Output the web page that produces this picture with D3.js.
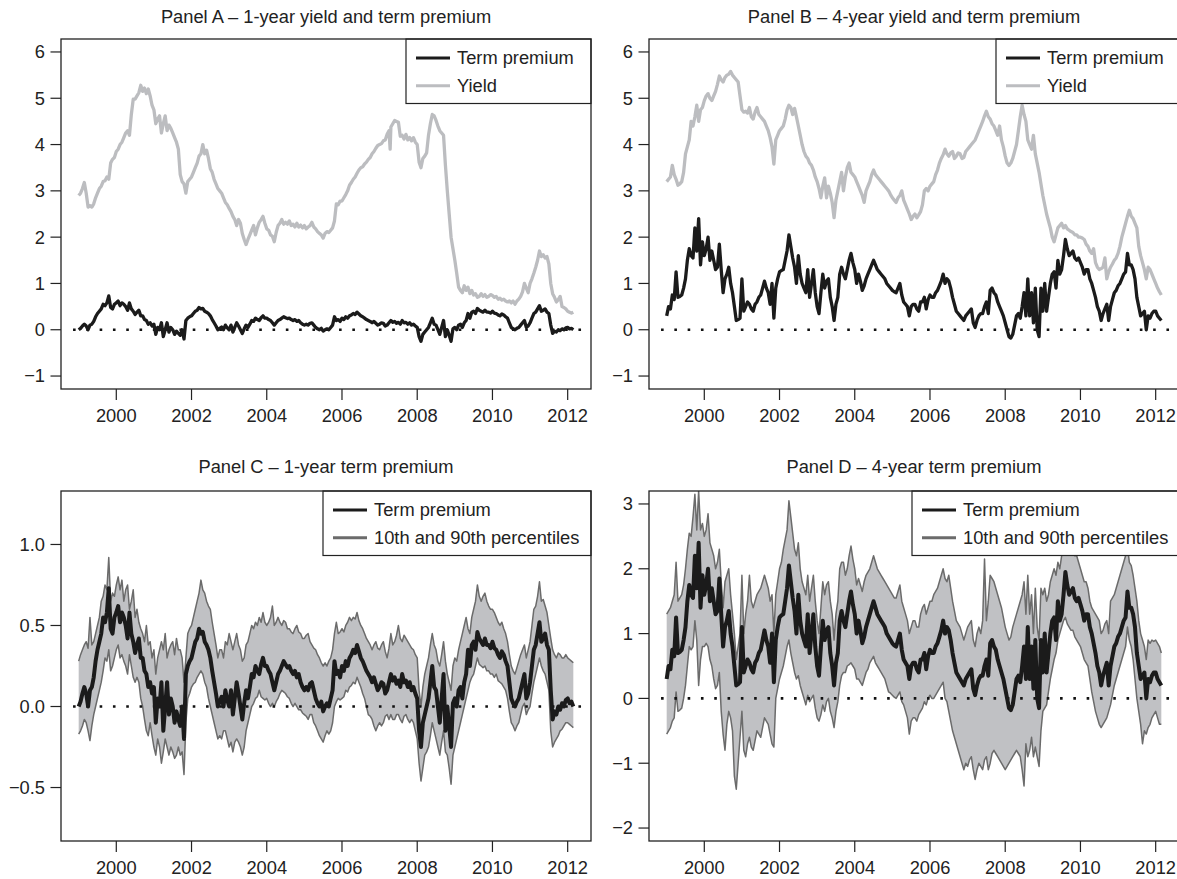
<!DOCTYPE html>
<html>
<head>
<meta charset="utf-8">
<script src="https://cdn.jsdelivr.net/npm/d3@7"></script>
<style>
  html, body { margin: 0; padding: 0; background: #fff; }
  svg { display: block; }
  text { font-family: "Liberation Sans", Arial, Helvetica, sans-serif; fill: #222; }
</style>
</head>
<body>
<svg id="chart" width="1177" height="879"></svg>
<script>
// ---- Data: [decimal year, percent] ----

// 1-year zero-coupon yield
const yield1 = [[1999.00,2.90],[1999.05,2.95],[1999.10,3.05],[1999.15,3.18],[1999.20,2.95],[1999.25,2.65],[1999.30,2.68],[1999.35,2.65],[1999.40,2.72],[1999.45,2.85],[1999.50,2.95],[1999.55,3.05],[1999.60,3.10],[1999.65,3.20],[1999.70,3.22],[1999.75,3.30],[1999.80,3.25],[1999.85,3.60],[1999.90,3.68],[1999.95,3.72],[2000.00,3.85],[2000.05,3.90],[2000.10,4.00],[2000.15,4.05],[2000.20,4.15],[2000.25,4.25],[2000.30,4.30],[2000.35,4.20],[2000.40,4.65],[2000.45,4.98],[2000.50,4.98],[2000.55,5.05],[2000.60,5.12],[2000.65,5.28],[2000.70,5.15],[2000.75,5.22],[2000.80,5.10],[2000.85,5.20],[2000.90,5.05],[2000.95,4.85],[2001.00,4.75],[2001.05,4.45],[2001.10,4.55],[2001.15,4.62],[2001.20,4.25],[2001.25,4.45],[2001.30,4.62],[2001.35,4.30],[2001.40,4.42],[2001.45,4.35],[2001.50,4.25],[2001.55,4.15],[2001.60,4.05],[2001.65,3.90],[2001.70,3.35],[2001.75,3.20],[2001.80,3.15],[2001.85,2.95],[2001.90,3.20],[2001.95,3.25],[2002.00,3.30],[2002.05,3.40],[2002.10,3.50],[2002.15,3.60],[2002.20,3.75],[2002.25,3.80],[2002.30,4.00],[2002.35,3.80],[2002.40,3.88],[2002.45,3.70],[2002.50,3.48],[2002.55,3.40],[2002.60,3.25],[2002.65,3.15],[2002.70,3.05],[2002.75,3.00],[2002.80,2.95],[2002.85,2.85],[2002.90,2.75],[2002.95,2.70],[2003.00,2.62],[2003.05,2.55],[2003.10,2.45],[2003.15,2.38],[2003.20,2.25],[2003.25,2.38],[2003.30,2.30],[2003.35,2.08],[2003.40,1.95],[2003.45,1.84],[2003.50,1.95],[2003.55,2.05],[2003.60,2.15],[2003.65,2.25],[2003.70,2.05],[2003.75,2.20],[2003.80,2.32],[2003.85,2.38],[2003.90,2.45],[2003.95,2.30],[2004.00,2.18],[2004.05,2.15],[2004.10,2.05],[2004.15,2.02],[2004.20,1.90],[2004.25,2.10],[2004.30,2.25],[2004.35,2.30],[2004.40,2.38],[2004.45,2.28],[2004.50,2.32],[2004.55,2.28],[2004.60,2.35],[2004.65,2.25],[2004.70,2.28],[2004.75,2.22],[2004.80,2.30],[2004.85,2.22],[2004.90,2.26],[2004.95,2.20],[2005.00,2.25],[2005.05,2.18],[2005.10,2.22],[2005.15,2.25],[2005.20,2.32],[2005.25,2.22],[2005.30,2.18],[2005.35,2.12],[2005.40,2.08],[2005.45,2.05],[2005.50,1.98],[2005.55,2.08],[2005.60,2.12],[2005.65,2.10],[2005.70,2.15],[2005.75,2.20],[2005.80,2.35],[2005.85,2.72],[2005.90,2.70],[2005.95,2.78],[2006.00,2.78],[2006.05,2.85],[2006.10,2.92],[2006.15,3.00],[2006.20,3.12],[2006.25,3.18],[2006.30,3.25],[2006.35,3.30],[2006.40,3.38],[2006.45,3.45],[2006.50,3.50],[2006.55,3.52],[2006.60,3.58],[2006.65,3.62],[2006.70,3.68],[2006.75,3.72],[2006.80,3.80],[2006.85,3.85],[2006.90,3.92],[2006.95,3.98],[2007.00,4.00],[2007.05,4.02],[2007.10,4.08],[2007.15,4.10],[2007.20,4.22],[2007.25,4.30],[2007.28,3.90],[2007.30,4.38],[2007.35,4.45],[2007.40,4.52],[2007.45,4.50],[2007.50,4.48],[2007.55,4.18],[2007.60,4.20],[2007.65,4.12],[2007.70,4.22],[2007.75,4.10],[2007.80,4.15],[2007.85,4.08],[2007.90,4.15],[2007.95,4.05],[2008.00,4.00],[2008.05,3.62],[2008.10,3.50],[2008.15,3.70],[2008.20,3.75],[2008.25,3.82],[2008.30,4.20],[2008.35,4.45],[2008.40,4.65],[2008.45,4.62],[2008.50,4.52],[2008.55,4.40],[2008.60,4.30],[2008.65,4.25],[2008.70,4.20],[2008.75,3.55],[2008.80,3.00],[2008.85,2.50],[2008.90,2.00],[2008.95,1.75],[2009.00,1.50],[2009.05,1.22],[2009.10,0.92],[2009.15,0.85],[2009.20,0.80],[2009.25,0.95],[2009.30,0.85],[2009.35,0.92],[2009.40,0.78],[2009.45,0.85],[2009.50,0.75],[2009.55,0.78],[2009.60,0.70],[2009.65,0.72],[2009.70,0.78],[2009.75,0.72],[2009.80,0.76],[2009.85,0.70],[2009.90,0.72],[2009.95,0.76],[2010.00,0.74],[2010.05,0.70],[2010.10,0.72],[2010.15,0.66],[2010.20,0.68],[2010.25,0.64],[2010.30,0.66],[2010.35,0.62],[2010.40,0.60],[2010.45,0.62],[2010.50,0.58],[2010.55,0.62],[2010.60,0.55],[2010.65,0.62],[2010.70,0.66],[2010.75,0.72],[2010.80,0.82],[2010.85,1.00],[2010.90,0.90],[2010.95,0.80],[2011.00,1.00],[2011.05,1.10],[2011.10,1.22],[2011.15,1.35],[2011.20,1.50],[2011.25,1.70],[2011.30,1.58],[2011.35,1.62],[2011.40,1.55],[2011.45,1.58],[2011.50,1.42],[2011.55,1.00],[2011.60,0.78],[2011.65,0.70],[2011.70,0.60],[2011.75,0.65],[2011.80,0.72],[2011.85,0.50],[2011.90,0.48],[2011.95,0.45],[2012.00,0.40],[2012.05,0.38],[2012.10,0.36],[2012.15,0.38]];

// 1-year term premium
const premium1 = [[1999.00,0.00],[1999.05,0.03],[1999.10,0.08],[1999.15,0.12],[1999.20,0.08],[1999.25,0.00],[1999.30,0.10],[1999.35,0.12],[1999.40,0.18],[1999.45,0.28],[1999.50,0.35],[1999.55,0.40],[1999.60,0.45],[1999.65,0.55],[1999.70,0.52],[1999.75,0.58],[1999.80,0.73],[1999.85,0.48],[1999.90,0.45],[1999.95,0.55],[2000.00,0.58],[2000.05,0.62],[2000.10,0.52],[2000.15,0.58],[2000.20,0.55],[2000.25,0.50],[2000.30,0.42],[2000.35,0.58],[2000.40,0.45],[2000.45,0.40],[2000.50,0.33],[2000.55,0.38],[2000.60,0.42],[2000.65,0.30],[2000.70,0.30],[2000.75,0.22],[2000.80,0.20],[2000.85,0.12],[2000.90,0.15],[2000.95,0.08],[2001.00,0.12],[2001.05,-0.10],[2001.10,0.05],[2001.15,0.00],[2001.20,0.15],[2001.25,-0.15],[2001.30,0.00],[2001.35,0.15],[2001.40,-0.05],[2001.45,0.05],[2001.50,0.00],[2001.55,-0.10],[2001.60,-0.03],[2001.65,-0.08],[2001.70,-0.12],[2001.75,0.00],[2001.80,-0.20],[2001.85,0.20],[2001.90,0.25],[2001.95,0.28],[2002.00,0.30],[2002.05,0.35],[2002.10,0.40],[2002.15,0.42],[2002.20,0.48],[2002.25,0.45],[2002.30,0.46],[2002.35,0.40],[2002.40,0.38],[2002.45,0.35],[2002.50,0.30],[2002.55,0.22],[2002.60,0.15],[2002.65,0.08],[2002.70,0.00],[2002.75,0.03],[2002.80,0.06],[2002.85,0.00],[2002.90,0.10],[2002.95,0.04],[2003.00,0.00],[2003.05,0.10],[2003.10,-0.05],[2003.15,0.05],[2003.20,0.15],[2003.25,0.08],[2003.30,0.00],[2003.35,-0.08],[2003.40,0.02],[2003.45,0.10],[2003.50,0.05],[2003.55,0.12],[2003.60,0.20],[2003.65,0.18],[2003.70,0.25],[2003.75,0.22],[2003.80,0.20],[2003.85,0.26],[2003.90,0.30],[2003.95,0.25],[2004.00,0.25],[2004.05,0.22],[2004.10,0.20],[2004.15,0.15],[2004.20,0.10],[2004.25,0.15],[2004.30,0.20],[2004.35,0.22],[2004.40,0.25],[2004.45,0.28],[2004.50,0.26],[2004.55,0.24],[2004.60,0.25],[2004.65,0.22],[2004.70,0.20],[2004.75,0.22],[2004.80,0.18],[2004.85,0.20],[2004.90,0.15],[2004.95,0.12],[2005.00,0.10],[2005.05,0.12],[2005.10,0.10],[2005.15,0.14],[2005.20,0.15],[2005.25,0.10],[2005.30,0.05],[2005.35,0.02],[2005.40,0.00],[2005.45,0.03],[2005.50,-0.03],[2005.55,0.00],[2005.60,0.02],[2005.65,0.00],[2005.70,0.05],[2005.75,0.10],[2005.80,0.28],[2005.85,0.20],[2005.90,0.22],[2005.95,0.18],[2006.00,0.25],[2006.05,0.22],[2006.10,0.28],[2006.15,0.25],[2006.20,0.30],[2006.25,0.32],[2006.30,0.35],[2006.35,0.33],[2006.40,0.38],[2006.45,0.34],[2006.50,0.30],[2006.55,0.28],[2006.60,0.25],[2006.65,0.22],[2006.70,0.20],[2006.75,0.18],[2006.80,0.15],[2006.85,0.18],[2006.90,0.14],[2006.95,0.10],[2007.00,0.12],[2007.05,0.15],[2007.10,0.14],[2007.15,0.08],[2007.20,0.10],[2007.25,0.15],[2007.30,0.20],[2007.35,0.16],[2007.40,0.18],[2007.45,0.14],[2007.50,0.16],[2007.55,0.12],[2007.60,0.20],[2007.65,0.15],[2007.70,0.16],[2007.75,0.12],[2007.80,0.15],[2007.85,0.10],[2007.90,0.12],[2007.95,0.08],[2008.00,0.05],[2008.05,-0.15],[2008.10,-0.25],[2008.15,-0.10],[2008.20,-0.05],[2008.25,0.00],[2008.30,0.05],[2008.35,0.15],[2008.40,0.25],[2008.45,0.12],[2008.50,0.10],[2008.55,0.00],[2008.60,-0.10],[2008.65,0.05],[2008.70,0.20],[2008.75,-0.15],[2008.80,0.00],[2008.85,-0.12],[2008.90,-0.25],[2008.95,0.02],[2009.00,0.05],[2009.05,0.00],[2009.10,0.10],[2009.15,0.12],[2009.20,0.05],[2009.25,0.15],[2009.30,0.20],[2009.35,0.35],[2009.40,0.25],[2009.45,0.38],[2009.50,0.40],[2009.55,0.35],[2009.60,0.46],[2009.65,0.42],[2009.70,0.40],[2009.75,0.38],[2009.80,0.42],[2009.85,0.38],[2009.90,0.38],[2009.95,0.36],[2010.00,0.40],[2010.05,0.36],[2010.10,0.35],[2010.15,0.32],[2010.20,0.30],[2010.25,0.34],[2010.30,0.32],[2010.35,0.28],[2010.40,0.25],[2010.45,0.15],[2010.50,0.05],[2010.55,0.02],[2010.60,0.00],[2010.65,0.03],[2010.70,0.05],[2010.75,0.10],[2010.80,0.15],[2010.85,0.20],[2010.90,0.05],[2010.95,0.08],[2011.00,0.15],[2011.05,0.25],[2011.10,0.35],[2011.15,0.38],[2011.20,0.45],[2011.25,0.52],[2011.30,0.40],[2011.35,0.42],[2011.40,0.45],[2011.45,0.38],[2011.50,0.35],[2011.55,0.10],[2011.60,-0.08],[2011.65,-0.03],[2011.70,-0.05],[2011.75,0.00],[2011.80,-0.02],[2011.85,0.02],[2011.90,0.00],[2011.95,0.04],[2012.00,0.05],[2012.05,0.02],[2012.10,0.03],[2012.15,0.00]];

// 1-year term premium, 90th percentile
const premium1Upper = [[1999.00,0.28],[1999.05,0.32],[1999.10,0.35],[1999.15,0.38],[1999.20,0.40],[1999.25,0.36],[1999.30,0.55],[1999.35,0.38],[1999.40,0.40],[1999.45,0.45],[1999.50,0.50],[1999.55,0.55],[1999.60,0.65],[1999.65,0.68],[1999.70,0.75],[1999.75,0.72],[1999.80,0.92],[1999.85,0.65],[1999.90,0.70],[1999.95,0.68],[2000.00,0.75],[2000.05,0.80],[2000.10,0.72],[2000.15,0.78],[2000.20,0.65],[2000.25,0.72],[2000.30,0.75],[2000.35,0.60],[2000.40,0.65],[2000.45,0.72],[2000.50,0.55],[2000.55,0.60],[2000.60,0.52],[2000.65,0.48],[2000.70,0.45],[2000.75,0.40],[2000.80,0.50],[2000.85,0.38],[2000.90,0.40],[2000.95,0.30],[2001.00,0.35],[2001.05,0.20],[2001.10,0.30],[2001.15,0.35],[2001.20,0.40],[2001.25,0.35],[2001.30,0.45],[2001.35,0.30],[2001.40,0.35],[2001.45,0.38],[2001.50,0.40],[2001.55,0.32],[2001.60,0.42],[2001.65,0.35],[2001.70,0.35],[2001.75,0.30],[2001.80,0.15],[2001.85,0.30],[2001.90,0.45],[2001.95,0.48],[2002.00,0.50],[2002.05,0.55],[2002.10,0.60],[2002.15,0.65],[2002.20,0.70],[2002.25,0.78],[2002.30,0.72],[2002.35,0.70],[2002.40,0.65],[2002.45,0.62],[2002.50,0.60],[2002.55,0.52],[2002.60,0.45],[2002.65,0.38],[2002.70,0.30],[2002.75,0.35],[2002.80,0.35],[2002.85,0.30],[2002.90,0.40],[2002.95,0.38],[2003.00,0.45],[2003.05,0.40],[2003.10,0.35],[2003.15,0.40],[2003.20,0.45],[2003.25,0.38],[2003.30,0.35],[2003.35,0.28],[2003.40,0.30],[2003.45,0.38],[2003.50,0.40],[2003.55,0.45],[2003.60,0.50],[2003.65,0.48],[2003.70,0.52],[2003.75,0.50],[2003.80,0.55],[2003.85,0.52],[2003.90,0.58],[2003.95,0.52],[2004.00,0.50],[2004.05,0.52],[2004.10,0.55],[2004.15,0.62],[2004.20,0.50],[2004.25,0.52],[2004.30,0.55],[2004.35,0.52],[2004.40,0.50],[2004.45,0.53],[2004.50,0.52],[2004.55,0.48],[2004.60,0.48],[2004.65,0.46],[2004.70,0.45],[2004.75,0.48],[2004.80,0.50],[2004.85,0.46],[2004.90,0.45],[2004.95,0.42],[2005.00,0.42],[2005.05,0.44],[2005.10,0.45],[2005.15,0.40],[2005.20,0.38],[2005.25,0.36],[2005.30,0.35],[2005.35,0.32],[2005.40,0.30],[2005.45,0.27],[2005.50,0.25],[2005.55,0.27],[2005.60,0.25],[2005.65,0.28],[2005.70,0.30],[2005.75,0.35],[2005.80,0.45],[2005.85,0.52],[2005.90,0.45],[2005.95,0.46],[2006.00,0.48],[2006.05,0.46],[2006.10,0.50],[2006.15,0.52],[2006.20,0.55],[2006.25,0.53],[2006.30,0.55],[2006.35,0.54],[2006.40,0.58],[2006.45,0.53],[2006.50,0.50],[2006.55,0.48],[2006.60,0.45],[2006.65,0.42],[2006.70,0.40],[2006.75,0.38],[2006.80,0.35],[2006.85,0.38],[2006.90,0.40],[2006.95,0.36],[2007.00,0.35],[2007.05,0.38],[2007.10,0.40],[2007.15,0.34],[2007.20,0.30],[2007.25,0.36],[2007.30,0.45],[2007.35,0.38],[2007.40,0.40],[2007.45,0.44],[2007.50,0.50],[2007.55,0.42],[2007.60,0.40],[2007.65,0.44],[2007.70,0.42],[2007.75,0.40],[2007.80,0.38],[2007.85,0.36],[2007.90,0.35],[2007.95,0.32],[2008.00,0.30],[2008.05,0.10],[2008.10,0.00],[2008.15,0.12],[2008.20,0.20],[2008.25,0.25],[2008.30,0.30],[2008.35,0.38],[2008.40,0.45],[2008.45,0.38],[2008.50,0.35],[2008.55,0.28],[2008.60,0.25],[2008.65,0.32],[2008.70,0.40],[2008.75,0.28],[2008.80,0.20],[2008.85,0.15],[2008.90,0.10],[2008.95,0.25],[2009.00,0.30],[2009.05,0.28],[2009.10,0.35],[2009.15,0.40],[2009.20,0.45],[2009.25,0.50],[2009.30,0.55],[2009.35,0.48],[2009.40,0.45],[2009.45,0.55],[2009.50,0.60],[2009.55,0.65],[2009.60,0.75],[2009.65,0.68],[2009.70,0.65],[2009.75,0.68],[2009.80,0.70],[2009.85,0.65],[2009.90,0.62],[2009.95,0.60],[2010.00,0.60],[2010.05,0.58],[2010.10,0.55],[2010.15,0.52],[2010.20,0.50],[2010.25,0.52],[2010.30,0.48],[2010.35,0.45],[2010.40,0.40],[2010.45,0.32],[2010.50,0.25],[2010.55,0.22],[2010.60,0.20],[2010.65,0.24],[2010.70,0.28],[2010.75,0.32],[2010.80,0.35],[2010.85,0.38],[2010.90,0.30],[2010.95,0.35],[2011.00,0.40],[2011.05,0.50],[2011.10,0.60],[2011.15,0.62],[2011.20,0.68],[2011.25,0.77],[2011.30,0.65],[2011.35,0.66],[2011.40,0.62],[2011.45,0.58],[2011.50,0.50],[2011.55,0.42],[2011.60,0.35],[2011.65,0.32],[2011.70,0.30],[2011.75,0.33],[2011.80,0.32],[2011.85,0.30],[2011.90,0.30],[2011.95,0.32],[2012.00,0.30],[2012.05,0.29],[2012.10,0.28],[2012.15,0.27]];

// 1-year term premium, 10th percentile
const premium1Lower = [[1999.00,-0.17],[1999.05,-0.15],[1999.10,-0.12],[1999.15,-0.08],[1999.20,-0.10],[1999.25,-0.15],[1999.30,-0.21],[1999.35,-0.12],[1999.40,-0.05],[1999.45,0.00],[1999.50,0.05],[1999.55,0.10],[1999.60,0.15],[1999.65,0.22],[1999.70,0.30],[1999.75,0.28],[1999.80,0.35],[1999.85,0.22],[1999.90,0.25],[1999.95,0.30],[2000.00,0.35],[2000.05,0.38],[2000.10,0.30],[2000.15,0.32],[2000.20,0.28],[2000.25,0.25],[2000.30,0.20],[2000.35,0.32],[2000.40,0.25],[2000.45,0.18],[2000.50,0.15],[2000.55,0.18],[2000.60,0.15],[2000.65,0.05],[2000.70,0.00],[2000.75,-0.08],[2000.80,-0.15],[2000.85,-0.18],[2000.90,-0.10],[2000.95,-0.18],[2001.00,-0.25],[2001.05,-0.30],[2001.10,-0.20],[2001.15,-0.25],[2001.20,-0.35],[2001.25,-0.28],[2001.30,-0.20],[2001.35,-0.25],[2001.40,-0.30],[2001.45,-0.25],[2001.50,-0.28],[2001.55,-0.32],[2001.60,-0.30],[2001.65,-0.25],[2001.70,-0.30],[2001.75,-0.28],[2001.80,-0.42],[2001.85,-0.10],[2001.90,0.05],[2001.95,0.08],[2002.00,0.12],[2002.05,0.14],[2002.10,0.15],[2002.15,0.18],[2002.20,0.20],[2002.25,0.22],[2002.30,0.20],[2002.35,0.15],[2002.40,0.12],[2002.45,0.05],[2002.50,0.00],[2002.55,-0.05],[2002.60,-0.10],[2002.65,-0.15],[2002.70,-0.20],[2002.75,-0.18],[2002.80,-0.20],[2002.85,-0.15],[2002.90,-0.15],[2002.95,-0.20],[2003.00,-0.25],[2003.05,-0.22],[2003.10,-0.28],[2003.15,-0.22],[2003.20,-0.20],[2003.25,-0.22],[2003.30,-0.25],[2003.35,-0.30],[2003.40,-0.25],[2003.45,-0.15],[2003.50,-0.10],[2003.55,-0.05],[2003.60,0.00],[2003.65,0.02],[2003.70,0.05],[2003.75,0.06],[2003.80,0.10],[2003.85,0.06],[2003.90,0.05],[2003.95,0.04],[2004.00,0.05],[2004.05,0.02],[2004.10,0.00],[2004.15,0.02],[2004.20,0.00],[2004.25,0.03],[2004.30,0.05],[2004.35,0.08],[2004.40,0.10],[2004.45,0.09],[2004.50,0.08],[2004.55,0.06],[2004.60,0.05],[2004.65,0.02],[2004.70,0.00],[2004.75,0.02],[2004.80,0.00],[2004.85,-0.02],[2004.90,-0.02],[2004.95,-0.04],[2005.00,-0.05],[2005.05,-0.06],[2005.10,-0.08],[2005.15,-0.05],[2005.20,-0.05],[2005.25,-0.10],[2005.30,-0.12],[2005.35,-0.15],[2005.40,-0.18],[2005.45,-0.20],[2005.50,-0.22],[2005.55,-0.18],[2005.60,-0.15],[2005.65,-0.17],[2005.70,-0.15],[2005.75,-0.10],[2005.80,0.00],[2005.85,0.03],[2005.90,0.05],[2005.95,0.04],[2006.00,0.05],[2006.05,0.06],[2006.10,0.10],[2006.15,0.09],[2006.20,0.12],[2006.25,0.13],[2006.30,0.15],[2006.35,0.14],[2006.40,0.18],[2006.45,0.15],[2006.50,0.12],[2006.55,0.08],[2006.60,0.05],[2006.65,0.00],[2006.70,-0.05],[2006.75,-0.06],[2006.80,-0.08],[2006.85,-0.12],[2006.90,-0.15],[2006.95,-0.12],[2007.00,-0.10],[2007.05,-0.12],[2007.10,-0.10],[2007.15,-0.06],[2007.20,-0.05],[2007.25,-0.08],[2007.30,-0.05],[2007.35,-0.08],[2007.40,-0.08],[2007.45,-0.05],[2007.50,-0.05],[2007.55,-0.08],[2007.60,-0.10],[2007.65,-0.06],[2007.70,-0.05],[2007.75,-0.08],[2007.80,-0.10],[2007.85,-0.08],[2007.90,-0.10],[2007.95,-0.15],[2008.00,-0.20],[2008.05,-0.35],[2008.10,-0.46],[2008.15,-0.38],[2008.20,-0.30],[2008.25,-0.28],[2008.30,-0.25],[2008.35,-0.18],[2008.40,-0.10],[2008.45,-0.15],[2008.50,-0.20],[2008.55,-0.25],[2008.60,-0.30],[2008.65,-0.22],[2008.70,-0.15],[2008.75,-0.28],[2008.80,-0.30],[2008.85,-0.38],[2008.90,-0.48],[2008.95,-0.30],[2009.00,-0.25],[2009.05,-0.20],[2009.10,-0.15],[2009.15,-0.10],[2009.20,-0.05],[2009.25,0.00],[2009.30,0.05],[2009.35,0.10],[2009.40,0.15],[2009.45,0.18],[2009.50,0.20],[2009.55,0.25],[2009.60,0.30],[2009.65,0.26],[2009.70,0.25],[2009.75,0.24],[2009.80,0.25],[2009.85,0.22],[2009.90,0.22],[2009.95,0.20],[2010.00,0.20],[2010.05,0.18],[2010.10,0.20],[2010.15,0.16],[2010.20,0.15],[2010.25,0.14],[2010.30,0.12],[2010.35,0.10],[2010.40,0.05],[2010.45,-0.03],[2010.50,-0.10],[2010.55,-0.12],[2010.60,-0.15],[2010.65,-0.12],[2010.70,-0.10],[2010.75,-0.05],[2010.80,0.00],[2010.85,0.02],[2010.90,-0.05],[2010.95,-0.02],[2011.00,0.00],[2011.05,0.08],[2011.10,0.15],[2011.15,0.20],[2011.20,0.25],[2011.25,0.30],[2011.30,0.25],[2011.35,0.22],[2011.40,0.20],[2011.45,0.15],[2011.50,0.10],[2011.55,-0.15],[2011.60,-0.25],[2011.65,-0.22],[2011.70,-0.20],[2011.75,-0.18],[2011.80,-0.15],[2011.85,-0.14],[2011.90,-0.12],[2011.95,-0.10],[2012.00,-0.10],[2012.05,-0.11],[2012.10,-0.12],[2012.15,-0.13]];

// 4-year zero-coupon yield
const yield4 = [[1999.00,3.20],[1999.05,3.25],[1999.10,3.30],[1999.15,3.55],[1999.20,3.35],[1999.25,3.25],[1999.30,3.12],[1999.35,3.15],[1999.40,3.20],[1999.45,3.40],[1999.50,3.80],[1999.55,3.95],[1999.60,4.10],[1999.65,4.50],[1999.70,4.40],[1999.75,4.60],[1999.80,4.85],[1999.85,4.50],[1999.90,4.75],[1999.95,4.80],[2000.00,4.95],[2000.05,5.05],[2000.10,5.10],[2000.15,5.00],[2000.20,4.95],[2000.25,5.05],[2000.30,5.15],[2000.35,5.30],[2000.40,5.48],[2000.45,5.40],[2000.50,5.35],[2000.55,5.45],[2000.60,5.50],[2000.65,5.52],[2000.70,5.58],[2000.75,5.50],[2000.80,5.45],[2000.85,5.40],[2000.90,5.35],[2000.95,5.05],[2001.00,4.75],[2001.05,4.70],[2001.10,4.72],[2001.15,4.68],[2001.20,4.80],[2001.25,4.60],[2001.30,4.55],[2001.35,4.70],[2001.40,4.80],[2001.45,4.65],[2001.50,4.60],[2001.55,4.55],[2001.60,4.50],[2001.65,4.40],[2001.70,4.30],[2001.75,4.15],[2001.80,3.95],[2001.85,3.58],[2001.90,4.10],[2001.95,4.20],[2002.00,4.30],[2002.05,4.35],[2002.10,4.40],[2002.15,4.55],[2002.20,4.75],[2002.25,4.85],[2002.30,4.80],[2002.35,4.65],[2002.40,4.78],[2002.45,4.60],[2002.50,4.40],[2002.55,4.20],[2002.60,4.00],[2002.65,3.85],[2002.70,3.75],[2002.75,3.70],[2002.80,3.60],[2002.85,3.55],[2002.90,3.45],[2002.95,3.30],[2003.00,3.20],[2003.05,3.05],[2003.10,2.85],[2003.15,3.10],[2003.20,3.28],[2003.25,2.85],[2003.30,3.10],[2003.35,2.95],[2003.40,2.75],[2003.45,2.42],[2003.50,2.80],[2003.55,3.00],[2003.60,3.20],[2003.65,3.40],[2003.70,3.00],[2003.75,3.30],[2003.80,3.50],[2003.85,3.60],[2003.90,3.40],[2003.95,3.35],[2004.00,3.30],[2004.05,3.20],[2004.10,3.10],[2004.15,3.00],[2004.20,2.90],[2004.25,2.75],[2004.30,3.00],[2004.35,3.10],[2004.40,3.20],[2004.45,3.35],[2004.50,3.45],[2004.55,3.35],[2004.60,3.30],[2004.65,3.25],[2004.70,3.20],[2004.75,3.15],[2004.80,3.10],[2004.85,3.05],[2004.90,3.00],[2004.95,2.92],[2005.00,2.85],[2005.05,2.80],[2005.10,2.75],[2005.15,2.85],[2005.20,2.90],[2005.25,3.00],[2005.30,2.80],[2005.35,2.70],[2005.40,2.60],[2005.45,2.50],[2005.50,2.38],[2005.55,2.45],[2005.60,2.50],[2005.65,2.42],[2005.70,2.48],[2005.75,2.55],[2005.80,2.70],[2005.85,3.00],[2005.90,3.05],[2005.95,3.00],[2006.00,3.10],[2006.05,3.15],[2006.10,3.20],[2006.15,3.35],[2006.20,3.45],[2006.25,3.60],[2006.30,3.70],[2006.35,3.78],[2006.40,3.90],[2006.45,3.80],[2006.50,3.75],[2006.55,3.82],[2006.60,3.85],[2006.65,3.70],[2006.70,3.75],[2006.75,3.82],[2006.80,3.80],[2006.85,3.70],[2006.90,3.72],[2006.95,3.85],[2007.00,3.90],[2007.05,3.95],[2007.10,4.00],[2007.15,4.05],[2007.20,4.10],[2007.25,4.20],[2007.30,4.30],[2007.35,4.40],[2007.40,4.50],[2007.45,4.62],[2007.50,4.72],[2007.55,4.60],[2007.60,4.55],[2007.65,4.45],[2007.70,4.40],[2007.75,4.30],[2007.80,4.20],[2007.85,4.40],[2007.90,4.10],[2007.95,3.95],[2008.00,3.75],[2008.05,3.60],[2008.10,3.55],[2008.15,3.60],[2008.20,3.70],[2008.25,3.85],[2008.30,4.00],[2008.35,4.30],[2008.40,4.60],[2008.45,4.85],[2008.50,4.65],[2008.55,4.50],[2008.60,4.10],[2008.65,4.00],[2008.70,3.90],[2008.75,4.20],[2008.80,3.80],[2008.85,3.60],[2008.90,3.40],[2008.95,3.15],[2009.00,2.90],[2009.05,2.70],[2009.10,2.50],[2009.15,2.35],[2009.20,2.20],[2009.25,2.00],[2009.30,1.90],[2009.35,2.05],[2009.40,2.20],[2009.45,2.25],[2009.50,2.30],[2009.55,2.20],[2009.60,2.25],[2009.65,2.18],[2009.70,2.15],[2009.75,2.12],[2009.80,2.10],[2009.85,2.05],[2009.90,2.05],[2009.95,2.00],[2010.00,2.00],[2010.05,1.98],[2010.10,1.95],[2010.15,1.85],[2010.20,1.80],[2010.25,1.70],[2010.30,1.65],[2010.35,1.75],[2010.40,1.45],[2010.45,1.35],[2010.50,1.30],[2010.55,1.32],[2010.60,1.35],[2010.65,1.55],[2010.70,1.10],[2010.75,1.25],[2010.80,1.35],[2010.85,1.42],[2010.90,1.50],[2010.95,1.55],[2011.00,1.65],[2011.05,1.80],[2011.10,2.00],[2011.15,2.15],[2011.20,2.30],[2011.25,2.45],[2011.30,2.58],[2011.35,2.45],[2011.40,2.40],[2011.45,2.30],[2011.50,2.20],[2011.55,1.80],[2011.60,1.60],[2011.65,1.45],[2011.70,1.30],[2011.75,1.10],[2011.80,1.35],[2011.85,1.30],[2011.90,1.20],[2011.95,1.10],[2012.00,1.00],[2012.05,0.90],[2012.10,0.82],[2012.15,0.75]];

// 4-year term premium
const premium4 = [[1999.00,0.30],[1999.05,0.50],[1999.10,0.45],[1999.15,0.75],[1999.20,0.65],[1999.25,1.25],[1999.30,0.70],[1999.35,0.72],[1999.40,0.75],[1999.45,0.90],[1999.50,1.10],[1999.55,1.50],[1999.60,1.75],[1999.65,1.60],[1999.70,1.55],[1999.75,2.20],[1999.80,1.70],[1999.85,2.40],[1999.90,1.40],[1999.95,1.90],[2000.00,1.60],[2000.05,1.75],[2000.10,2.00],[2000.15,1.50],[2000.20,1.70],[2000.25,1.50],[2000.30,1.30],[2000.35,1.35],[2000.40,1.85],[2000.45,1.30],[2000.50,0.80],[2000.55,1.10],[2000.60,1.20],[2000.65,1.35],[2000.70,1.00],[2000.75,0.80],[2000.80,0.50],[2000.85,0.20],[2000.90,0.22],[2000.95,0.25],[2001.00,1.10],[2001.05,0.40],[2001.10,0.50],[2001.15,0.60],[2001.20,0.55],[2001.25,0.45],[2001.30,0.40],[2001.35,0.55],[2001.40,0.60],[2001.45,0.70],[2001.50,0.75],[2001.55,0.90],[2001.60,1.05],[2001.65,0.90],[2001.70,0.80],[2001.75,0.55],[2001.80,1.00],[2001.85,0.25],[2001.90,0.90],[2001.95,1.10],[2002.00,1.25],[2002.05,1.28],[2002.10,1.30],[2002.15,1.50],[2002.20,1.70],[2002.25,2.05],[2002.30,1.80],[2002.35,1.55],[2002.40,1.35],[2002.45,1.00],[2002.50,1.60],[2002.55,1.20],[2002.60,1.00],[2002.65,0.90],[2002.70,0.80],[2002.75,1.30],[2002.80,0.70],[2002.85,1.00],[2002.90,1.30],[2002.95,0.80],[2003.00,0.50],[2003.05,0.35],[2003.10,0.80],[2003.15,1.20],[2003.20,0.90],[2003.25,1.05],[2003.30,1.10],[2003.35,0.70],[2003.40,0.50],[2003.45,0.20],[2003.50,0.55],[2003.55,0.70],[2003.60,1.20],[2003.65,1.35],[2003.70,1.20],[2003.75,1.10],[2003.80,1.30],[2003.85,1.50],[2003.90,1.65],[2003.95,1.45],[2004.00,1.30],[2004.05,1.00],[2004.10,1.20],[2004.15,1.05],[2004.20,0.85],[2004.25,0.95],[2004.30,1.10],[2004.35,1.20],[2004.40,1.30],[2004.45,1.40],[2004.50,1.50],[2004.55,1.40],[2004.60,1.30],[2004.65,1.25],[2004.70,1.20],[2004.75,1.15],[2004.80,1.10],[2004.85,1.00],[2004.90,0.95],[2004.95,0.90],[2005.00,0.85],[2005.05,0.82],[2005.10,0.80],[2005.15,0.90],[2005.20,1.00],[2005.25,0.75],[2005.30,0.60],[2005.35,0.55],[2005.40,0.50],[2005.45,0.30],[2005.50,0.50],[2005.55,0.55],[2005.60,0.55],[2005.65,0.45],[2005.70,0.40],[2005.75,0.60],[2005.80,0.60],[2005.85,0.70],[2005.90,0.45],[2005.95,0.65],[2006.00,0.75],[2006.05,0.70],[2006.10,0.70],[2006.15,0.80],[2006.20,0.85],[2006.25,0.95],[2006.30,1.05],[2006.35,1.20],[2006.40,1.00],[2006.45,1.10],[2006.50,1.05],[2006.55,0.90],[2006.60,0.70],[2006.65,0.55],[2006.70,0.40],[2006.75,0.35],[2006.80,0.30],[2006.85,0.25],[2006.90,0.20],[2006.95,0.30],[2007.00,0.35],[2007.05,0.40],[2007.10,0.45],[2007.15,0.15],[2007.20,0.05],[2007.25,0.20],[2007.30,0.30],[2007.35,0.35],[2007.40,0.35],[2007.45,0.50],[2007.50,0.60],[2007.55,0.35],[2007.60,0.85],[2007.65,0.90],[2007.70,0.80],[2007.75,0.75],[2007.80,0.60],[2007.85,0.50],[2007.90,0.40],[2007.95,0.30],[2008.00,0.15],[2008.05,0.00],[2008.10,-0.15],[2008.15,-0.18],[2008.20,-0.10],[2008.25,0.10],[2008.30,0.30],[2008.35,0.35],[2008.40,0.25],[2008.45,0.50],[2008.50,0.80],[2008.55,0.30],[2008.60,1.10],[2008.65,0.30],[2008.70,0.80],[2008.75,0.15],[2008.80,0.90],[2008.85,0.00],[2008.90,-0.15],[2008.95,0.90],[2009.00,0.40],[2009.05,1.00],[2009.10,0.40],[2009.15,0.70],[2009.20,1.00],[2009.25,1.20],[2009.30,1.25],[2009.35,0.90],[2009.40,1.50],[2009.45,1.20],[2009.50,1.30],[2009.55,1.60],[2009.60,1.95],[2009.65,1.75],[2009.70,1.60],[2009.75,1.65],[2009.80,1.70],[2009.85,1.55],[2009.90,1.50],[2009.95,1.55],[2010.00,1.45],[2010.05,1.35],[2010.10,1.20],[2010.15,1.30],[2010.20,1.30],[2010.25,1.10],[2010.30,1.00],[2010.35,0.85],[2010.40,0.70],[2010.45,0.50],[2010.50,0.40],[2010.55,0.20],[2010.60,0.35],[2010.65,0.45],[2010.70,0.55],[2010.75,0.20],[2010.80,0.50],[2010.85,0.65],[2010.90,0.80],[2010.95,0.85],[2011.00,0.95],[2011.05,1.00],[2011.10,1.10],[2011.15,1.20],[2011.20,1.25],[2011.25,1.65],[2011.30,1.40],[2011.35,1.40],[2011.40,1.30],[2011.45,1.10],[2011.50,0.70],[2011.55,0.50],[2011.60,0.30],[2011.65,0.35],[2011.70,0.40],[2011.75,0.00],[2011.80,0.30],[2011.85,0.25],[2011.90,0.35],[2011.95,0.40],[2012.00,0.40],[2012.05,0.30],[2012.10,0.25],[2012.15,0.20]];

// 4-year term premium, 90th percentile
const premium4Upper = [[1999.00,1.30],[1999.05,1.35],[1999.10,1.40],[1999.15,1.50],[1999.20,1.60],[1999.25,2.10],[1999.30,1.50],[1999.35,1.55],[1999.40,1.60],[1999.45,1.75],[1999.50,2.00],[1999.55,2.30],[1999.60,2.55],[1999.65,2.50],[1999.70,2.80],[1999.75,3.15],[1999.80,2.60],[1999.85,3.20],[1999.90,2.60],[1999.95,2.70],[2000.00,2.50],[2000.05,2.60],[2000.10,2.85],[2000.15,2.40],[2000.20,2.30],[2000.25,2.20],[2000.30,2.00],[2000.35,2.10],[2000.40,2.30],[2000.45,1.80],[2000.50,1.40],[2000.55,1.80],[2000.60,1.90],[2000.65,2.00],[2000.70,1.60],[2000.75,1.30],[2000.80,1.00],[2000.85,0.60],[2000.90,0.80],[2000.95,1.00],[2001.00,1.90],[2001.05,1.00],[2001.10,1.30],[2001.15,1.50],[2001.20,1.90],[2001.25,1.50],[2001.30,1.40],[2001.35,1.50],[2001.40,1.60],[2001.45,1.65],[2001.50,1.70],[2001.55,1.80],[2001.60,1.90],[2001.65,1.80],[2001.70,1.70],[2001.75,1.50],[2001.80,1.60],[2001.85,1.00],[2001.90,1.60],[2001.95,1.80],[2002.00,2.00],[2002.05,2.10],[2002.10,2.30],[2002.15,2.45],[2002.20,2.60],[2002.25,3.05],[2002.30,2.80],[2002.35,2.55],[2002.40,2.30],[2002.45,2.20],[2002.50,2.40],[2002.55,2.00],[2002.60,1.80],[2002.65,1.70],[2002.70,1.60],[2002.75,1.90],[2002.80,1.50],[2002.85,1.70],[2002.90,1.90],[2002.95,1.50],[2003.00,1.20],[2003.05,1.00],[2003.10,1.40],[2003.15,1.80],[2003.20,1.60],[2003.25,1.75],[2003.30,1.80],[2003.35,1.50],[2003.40,1.30],[2003.45,0.90],[2003.50,1.30],[2003.55,1.50],[2003.60,2.00],[2003.65,2.10],[2003.70,2.10],[2003.75,1.90],[2003.80,2.00],[2003.85,2.20],[2003.90,2.35],[2003.95,2.15],[2004.00,2.00],[2004.05,1.75],[2004.10,1.85],[2004.15,1.75],[2004.20,1.65],[2004.25,1.80],[2004.30,1.90],[2004.35,1.95],[2004.40,2.00],[2004.45,2.10],[2004.50,2.20],[2004.55,2.10],[2004.60,2.00],[2004.65,1.95],[2004.70,1.90],[2004.75,1.85],[2004.80,1.80],[2004.85,1.75],[2004.90,1.70],[2004.95,1.65],[2005.00,1.60],[2005.05,1.55],[2005.10,1.55],[2005.15,1.65],[2005.20,1.75],[2005.25,1.50],[2005.30,1.40],[2005.35,1.30],[2005.40,1.20],[2005.45,1.00],[2005.50,1.10],[2005.55,1.20],[2005.60,1.20],[2005.65,1.10],[2005.70,1.10],[2005.75,1.30],[2005.80,1.40],[2005.85,1.45],[2005.90,1.30],[2005.95,1.40],[2006.00,1.50],[2006.05,1.50],[2006.10,1.60],[2006.15,1.65],[2006.20,1.70],[2006.25,1.80],[2006.30,1.90],[2006.35,2.00],[2006.40,1.85],[2006.45,1.80],[2006.50,1.90],[2006.55,1.70],[2006.60,1.50],[2006.65,1.35],[2006.70,1.20],[2006.75,1.15],[2006.80,1.10],[2006.85,1.00],[2006.90,0.90],[2006.95,1.00],[2007.00,1.10],[2007.05,1.15],[2007.10,1.20],[2007.15,0.90],[2007.20,0.80],[2007.25,1.00],[2007.30,1.10],[2007.35,1.00],[2007.40,1.20],[2007.45,2.15],[2007.50,1.20],[2007.55,1.50],[2007.60,1.90],[2007.65,1.85],[2007.70,1.80],[2007.75,1.70],[2007.80,1.60],[2007.85,1.50],[2007.90,1.40],[2007.95,1.25],[2008.00,1.10],[2008.05,1.00],[2008.10,0.90],[2008.15,0.95],[2008.20,1.10],[2008.25,1.20],[2008.30,1.30],[2008.35,1.40],[2008.40,1.50],[2008.45,1.60],[2008.50,1.80],[2008.55,1.30],[2008.60,1.90],[2008.65,1.30],[2008.70,1.60],[2008.75,1.00],[2008.80,1.70],[2008.85,1.10],[2008.90,0.90],[2008.95,1.70],[2009.00,1.60],[2009.05,1.70],[2009.10,1.50],[2009.15,1.60],[2009.20,1.80],[2009.25,1.90],[2009.30,2.00],[2009.35,1.90],[2009.40,2.10],[2009.45,2.00],[2009.50,2.20],[2009.55,2.30],[2009.60,2.35],[2009.65,2.30],[2009.70,2.25],[2009.75,2.30],[2009.80,2.30],[2009.85,2.20],[2009.90,2.20],[2009.95,2.10],[2010.00,2.00],[2010.05,1.90],[2010.10,1.80],[2010.15,1.80],[2010.20,1.70],[2010.25,1.50],[2010.30,1.40],[2010.35,1.35],[2010.40,1.30],[2010.45,1.25],[2010.50,1.20],[2010.55,1.00],[2010.60,1.05],[2010.65,1.15],[2010.70,1.20],[2010.75,1.00],[2010.80,1.50],[2010.85,1.55],[2010.90,1.60],[2010.95,1.70],[2011.00,1.80],[2011.05,1.90],[2011.10,2.00],[2011.15,2.10],[2011.20,2.20],[2011.25,2.35],[2011.30,2.10],[2011.35,2.05],[2011.40,1.90],[2011.45,1.70],[2011.50,1.50],[2011.55,1.20],[2011.60,1.00],[2011.65,0.90],[2011.70,0.80],[2011.75,0.60],[2011.80,0.90],[2011.85,0.85],[2011.90,0.90],[2011.95,0.88],[2012.00,0.90],[2012.05,0.85],[2012.10,0.80],[2012.15,0.70]];

// 4-year term premium, 10th percentile
const premium4Lower = [[1999.00,-0.55],[1999.05,-0.50],[1999.10,-0.45],[1999.15,-0.35],[1999.20,-0.30],[1999.25,0.10],[1999.30,-0.20],[1999.35,-0.18],[1999.40,-0.15],[1999.45,0.00],[1999.50,0.20],[1999.55,0.50],[1999.60,0.80],[1999.65,0.75],[1999.70,0.80],[1999.75,1.20],[1999.80,0.90],[1999.85,0.20],[1999.90,0.60],[1999.95,0.80],[2000.00,0.80],[2000.05,0.85],[2000.10,0.80],[2000.15,0.60],[2000.20,0.50],[2000.25,0.30],[2000.30,0.15],[2000.35,0.20],[2000.40,0.40],[2000.45,-0.20],[2000.50,-0.55],[2000.55,-0.80],[2000.60,-0.40],[2000.65,-0.20],[2000.70,-0.30],[2000.75,-0.50],[2000.80,-1.20],[2000.85,-1.40],[2000.90,-1.00],[2000.95,-0.60],[2001.00,-0.20],[2001.05,-0.80],[2001.10,-0.90],[2001.15,-0.70],[2001.20,-0.60],[2001.25,-0.75],[2001.30,-0.80],[2001.35,-0.65],[2001.40,-0.50],[2001.45,-0.55],[2001.50,-0.60],[2001.55,-0.45],[2001.60,-0.30],[2001.65,-0.35],[2001.70,-0.40],[2001.75,-0.55],[2001.80,-0.70],[2001.85,-0.75],[2001.90,0.00],[2001.95,0.15],[2002.00,0.30],[2002.05,0.40],[2002.10,0.50],[2002.15,0.65],[2002.20,0.80],[2002.25,0.90],[2002.30,0.70],[2002.35,0.55],[2002.40,0.40],[2002.45,0.30],[2002.50,0.35],[2002.55,0.20],[2002.60,0.10],[2002.65,0.00],[2002.70,-0.10],[2002.75,0.05],[2002.80,-0.05],[2002.85,0.00],[2002.90,0.05],[2002.95,-0.15],[2003.00,-0.30],[2003.05,-0.35],[2003.10,-0.25],[2003.15,-0.10],[2003.20,-0.20],[2003.25,-0.05],[2003.30,0.00],[2003.35,-0.20],[2003.40,-0.30],[2003.45,-0.45],[2003.50,-0.20],[2003.55,-0.05],[2003.60,0.20],[2003.65,0.35],[2003.70,0.40],[2003.75,0.40],[2003.80,0.50],[2003.85,0.52],[2003.90,0.55],[2003.95,0.50],[2004.00,0.45],[2004.05,0.30],[2004.10,0.30],[2004.15,0.25],[2004.20,0.20],[2004.25,0.30],[2004.30,0.40],[2004.35,0.45],[2004.40,0.55],[2004.45,0.60],[2004.50,0.65],[2004.55,0.55],[2004.60,0.50],[2004.65,0.45],[2004.70,0.40],[2004.75,0.35],[2004.80,0.30],[2004.85,0.20],[2004.90,0.10],[2004.95,0.08],[2005.00,0.05],[2005.05,0.02],[2005.10,0.00],[2005.15,0.05],[2005.20,0.10],[2005.25,-0.05],[2005.30,-0.10],[2005.35,-0.20],[2005.40,-0.30],[2005.45,-0.55],[2005.50,-0.35],[2005.55,-0.30],[2005.60,-0.30],[2005.65,-0.35],[2005.70,-0.25],[2005.75,-0.20],[2005.80,-0.15],[2005.85,-0.05],[2005.90,-0.10],[2005.95,0.00],[2006.00,0.05],[2006.05,0.00],[2006.10,0.00],[2006.15,0.05],[2006.20,0.10],[2006.25,0.15],[2006.30,0.20],[2006.35,0.25],[2006.40,0.00],[2006.45,-0.05],[2006.50,-0.20],[2006.55,-0.35],[2006.60,-0.50],[2006.65,-0.60],[2006.70,-0.70],[2006.75,-0.80],[2006.80,-0.90],[2006.85,-1.00],[2006.90,-1.10],[2006.95,-1.00],[2007.00,-1.05],[2007.05,-0.95],[2007.10,-0.90],[2007.15,-1.10],[2007.20,-1.25],[2007.25,-1.10],[2007.30,-1.00],[2007.35,-1.05],[2007.40,-1.10],[2007.45,-0.95],[2007.50,-0.90],[2007.55,-1.10],[2007.60,-1.00],[2007.65,-0.85],[2007.70,-0.80],[2007.75,-0.85],[2007.80,-0.90],[2007.85,-0.95],[2007.90,-1.00],[2007.95,-1.05],[2008.00,-1.10],[2008.05,-1.05],[2008.10,-1.00],[2008.15,-0.95],[2008.20,-0.90],[2008.25,-0.85],[2008.30,-0.80],[2008.35,-0.85],[2008.40,-0.90],[2008.45,-1.10],[2008.50,-1.35],[2008.55,-0.70],[2008.60,-0.90],[2008.65,-0.80],[2008.70,-0.60],[2008.75,-0.90],[2008.80,-0.75],[2008.85,-0.90],[2008.90,-1.05],[2008.95,-0.50],[2009.00,-0.20],[2009.05,-0.15],[2009.10,-0.10],[2009.15,0.10],[2009.20,0.30],[2009.25,0.45],[2009.30,0.60],[2009.35,0.70],[2009.40,0.90],[2009.45,1.00],[2009.50,1.10],[2009.55,1.20],[2009.60,1.25],[2009.65,1.15],[2009.70,1.10],[2009.75,1.05],[2009.80,1.05],[2009.85,0.95],[2009.90,0.90],[2009.95,0.85],[2010.00,0.80],[2010.05,0.70],[2010.10,0.60],[2010.15,0.55],[2010.20,0.50],[2010.25,0.30],[2010.30,0.10],[2010.35,-0.05],[2010.40,-0.20],[2010.45,-0.30],[2010.50,-0.40],[2010.55,-0.45],[2010.60,-0.40],[2010.65,-0.35],[2010.70,-0.30],[2010.75,-0.20],[2010.80,-0.10],[2010.85,0.05],[2010.90,0.20],[2010.95,0.30],[2011.00,0.40],[2011.05,0.50],[2011.10,0.60],[2011.15,0.70],[2011.20,0.80],[2011.25,1.10],[2011.30,0.90],[2011.35,0.80],[2011.40,0.60],[2011.45,0.30],[2011.50,0.00],[2011.55,-0.20],[2011.60,-0.40],[2011.65,-0.70],[2011.70,-0.50],[2011.75,-0.55],[2011.80,-0.45],[2011.85,-0.40],[2011.90,-0.30],[2011.95,-0.25],[2012.00,-0.20],[2012.05,-0.30],[2012.10,-0.40],[2012.15,-0.40]];

// ---- Axes, titles, legends ----
const xTickYears = [2000, 2002, 2004, 2006, 2008, 2010, 2012];
const yTicksYield = [-1, 0, 1, 2, 3, 4, 5, 6];
const yTicksShort = [-0.5, 0, 0.5, 1.0];
const yTicksLong = [-2, -1, 0, 1, 2, 3];
const panelTitles = [
  "Panel A \u2013 1-year yield and term premium",
  "Panel B \u2013 4-year yield and term premium",
  "Panel C \u2013 1-year term premium",
  "Panel D \u2013 4-year term premium"
];
const legendYield = ["Term premium", "Yield"];
const legendBand = ["Term premium", "10th and 90th percentiles"];

// ---- Styling ----
const INK = "#222";
const C_PREMIUM = "#1b1b1b";
const C_YIELD = "#bcbdc0";
const C_PCTL = "#6b6b6b";
const C_BAND = "#c0c1c4";
const FONT_TICK = 18.3;
const FONT_TITLE = 18.3;
const FONT_LEGEND = 18.3;

const svg = d3.select("#chart");
const xDomain = [1998.53, 2012.62];
const zeroSpan = [1998.85, 2012.40];
const minus = v => String(v).replace("-", "\u2212");

function drawPanel(cfg) {
  const g = svg.append("g");
  const x = d3.scaleLinear().domain(xDomain).range([cfg.left, cfg.right]);
  const y = d3.scaleLinear().domain(cfg.yDomain).range([cfg.bottom, cfg.top]);
  const line = d3.line().x(d => x(d[0])).y(d => y(d[1]));

  // clip to plot region
  const clipId = "clip" + cfg.key;
  svg.append("clipPath").attr("id", clipId)
    .append("rect").attr("x", cfg.left).attr("y", cfg.top)
    .attr("width", cfg.right - cfg.left).attr("height", cfg.bottom - cfg.top);
  const plot = g.append("g").attr("clip-path", `url(#${clipId})`);

  if (cfg.band) {
    const [upper, lower] = cfg.band;
    const ring = upper.concat(lower.slice().reverse());
    plot.append("path").attr("d", line(ring) + "Z")
      .attr("fill", C_BAND).attr("stroke", "none");
    [upper, lower].forEach(s => plot.append("path").attr("d", line(s))
      .attr("fill", "none").attr("stroke", C_PCTL).attr("stroke-width", 1.5)
      .attr("stroke-linejoin", "round"));
  }
  if (cfg.yieldSeries) {
    plot.append("path").attr("d", line(cfg.yieldSeries))
      .attr("fill", "none").attr("stroke", C_YIELD).attr("stroke-width", 3.3)
      .attr("stroke-linejoin", "round");
  }

  // dotted zero reference
  plot.append("path").attr("d", line(zeroSpan.map(t => [t, 0])))
    .attr("fill", "none").attr("stroke", "#111").attr("stroke-width", 2.6)
    .attr("stroke-dasharray", "2.6 10.7");

  plot.append("path").attr("d", line(cfg.premium))
    .attr("fill", "none").attr("stroke", C_PREMIUM).attr("stroke-width", cfg.premiumWidth)
    .attr("stroke-linejoin", "round");

  // x axis ticks and labels
  xTickYears.forEach(t => {
    g.append("line").attr("x1", x(t)).attr("x2", x(t))
      .attr("y1", cfg.bottom).attr("y2", cfg.bottom + 11)
      .attr("stroke", INK).attr("stroke-width", 1.2);
    g.append("text").attr("x", x(t)).attr("y", cfg.bottom + 33)
      .attr("text-anchor", "middle").attr("font-size", FONT_TICK).text(t);
  });
  // y axis ticks and labels
  cfg.yTicks.forEach(v => {
    g.append("line").attr("x1", cfg.left - 10.5).attr("x2", cfg.left)
      .attr("y1", y(v)).attr("y2", y(v))
      .attr("stroke", INK).attr("stroke-width", 1.2);
    g.append("text").attr("x", cfg.left - 16).attr("y", y(v))
      .attr("dy", "0.35em").attr("text-anchor", "end")
      .attr("font-size", FONT_TICK).text(minus(cfg.yFormat(v)));
  });

  // title
  g.append("text").attr("x", (cfg.left + cfg.right) / 2).attr("y", cfg.titleY)
    .attr("text-anchor", "middle").attr("font-size", FONT_TITLE).text(cfg.title);

  // legend
  const lg = g.append("g");
  const lx = cfg.right - cfg.legendWidth;
  lg.append("rect").attr("x", lx).attr("y", cfg.top)
    .attr("width", cfg.legendWidth).attr("height", 64.5)
    .attr("fill", "#fff").attr("stroke", INK).attr("stroke-width", 1.2);
  const legendColors = [C_PREMIUM, cfg.band ? C_PCTL : C_YIELD];
  cfg.legend.forEach((label, i) => {
    const ly = cfg.top + 19 + i * 27.7;
    lg.append("line").attr("x1", lx + 10).attr("x2", lx + 44)
      .attr("y1", ly).attr("y2", ly)
      .attr("stroke", legendColors[i]).attr("stroke-width", 3);
    lg.append("text").attr("x", lx + 51).attr("y", ly).attr("dy", "0.35em")
      .attr("font-size", FONT_LEGEND).text(label);
  });

  // plot frame
  g.append("rect").attr("x", cfg.left).attr("y", cfg.top)
    .attr("width", cfg.right - cfg.left).attr("height", cfg.bottom - cfg.top)
    .attr("fill", "none").attr("stroke", INK).attr("stroke-width", 1.3);
}

const fmtInt = v => String(v);
const fmtOne = v => v.toFixed(1);

drawPanel({ key: "A", left: 61, right: 591, top: 39, bottom: 389, yDomain: [-1.28, 6.28],
  yTicks: yTicksYield, yFormat: fmtInt, title: panelTitles[0], titleY: 23,
  yieldSeries: yield1, premium: premium1, premiumWidth: 3.3,
  legend: legendYield, legendWidth: 185 });
drawPanel({ key: "B", left: 649, right: 1179, top: 39, bottom: 389, yDomain: [-1.28, 6.28],
  yTicks: yTicksYield, yFormat: fmtInt, title: panelTitles[1], titleY: 23,
  yieldSeries: yield4, premium: premium4, premiumWidth: 3.3,
  legend: legendYield, legendWidth: 183 });
drawPanel({ key: "C", left: 61, right: 591, top: 491, bottom: 841, yDomain: [-0.83, 1.33],
  yTicks: yTicksShort, yFormat: fmtOne, title: panelTitles[2], titleY: 473,
  band: [premium1Upper, premium1Lower], premium: premium1, premiumWidth: 4,
  legend: legendBand, legendWidth: 268 });
drawPanel({ key: "D", left: 649, right: 1179, top: 491, bottom: 841, yDomain: [-2.2, 3.2],
  yTicks: yTicksLong, yFormat: fmtInt, title: panelTitles[3], titleY: 473,
  band: [premium4Upper, premium4Lower], premium: premium4, premiumWidth: 4,
  legend: legendBand, legendWidth: 267 });
</script>
</body>
</html>
